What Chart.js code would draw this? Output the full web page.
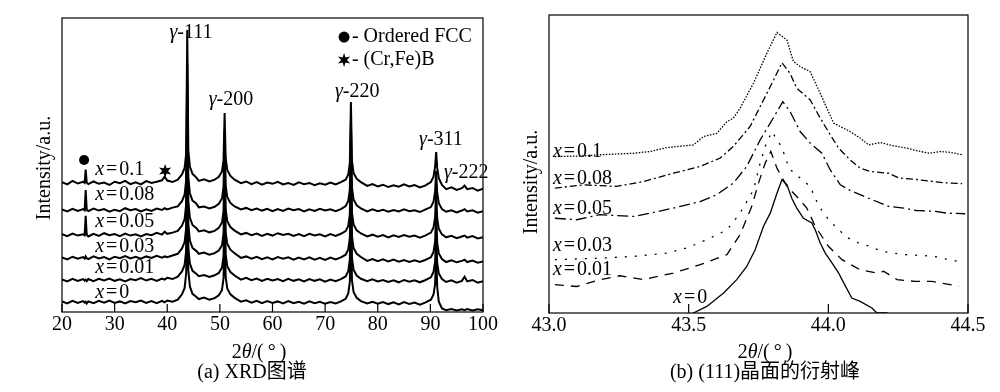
<!DOCTYPE html>
<html>
<head>
<meta charset="utf-8">
<script src="https://cdn.jsdelivr.net/npm/chart.js@4.4.1/dist/chart.umd.min.js"></script>
<style>
  html, body { margin: 0; padding: 0; background: #fff; }
  #wrap { position: relative; width: 1000px; height: 392px; }
  canvas { position: absolute; top: 0; }
</style>
</head>
<body>
<div id="wrap">
  <canvas id="xrd-chart" width="500" height="392" style="left:0"></canvas>
  <canvas id="peak-chart" width="500" height="392" style="left:500px"></canvas>
</div>
<script>
// ---- (a) XRD patterns: shared 2theta grid, one intensity list per composition ----
const xrdAngles = [
  20, 21, 22, 23, 24,
  24.3, 24.5, 24.7,
  25, 26, 27, 28, 29, 30, 31, 32, 33, 34, 35, 36, 37, 38, 39,
  39.5, 40, 41, 42,
  42.8, 43.3, 43.6, 43.8, 44.0, 44.3, 44.8, 45.5,
  46, 47, 48, 49,
  49.8, 50.4, 50.7, 50.9, 51.1, 51.4, 52, 52.8,
  54, 55, 56, 57, 58, 59, 60, 61, 62, 63, 64, 65, 66, 67, 68, 69, 70, 71, 72, 73,
  73.9, 74.4, 74.7, 74.9, 75.1, 75.4, 76, 76.8,
  78, 79, 80, 81, 82, 83, 84, 85, 86, 87, 88, 89,
  90.1, 90.6, 90.9, 91.1, 91.3, 91.6, 92.2,
  93, 94, 95, 96, 96.5, 97, 98, 99, 100
];
const xrdX010 = [
  44.2, 43.4, 44.6, 43.7, 44.3,
  43.9, 48.4, 44.0,
  43.5, 44.4, 43.6, 44.0, 43.2, 44.3, 43.8, 44.6, 43.5, 44.1, 43.4, 44.5, 43.9, 44.3, 44.8,
  46.0, 44.7, 44.2, 45.0,
  46.8, 49.0, 54.0, 95.9, 55.0, 49.5, 47.0, 45.8,
  44.6, 45.1, 44.4, 45.0,
  46.0, 47.8, 51.8, 67.7, 52.3, 48.3, 46.3, 45.0,
  43.8, 44.4, 43.5, 44.2, 43.3, 44.0, 43.6, 44.3, 43.4, 43.9, 43.2, 44.1, 43.5, 43.9, 43.1, 43.8, 43.3, 44.0, 43.4, 44.2,
  45.0, 46.8, 50.8, 71.4, 51.3, 47.3, 45.3, 44.2,
  42.9, 43.5, 42.7, 43.3, 42.5, 43.1, 42.6, 43.4, 42.7, 43.2, 42.4, 43.0,
  44.2, 46.0, 49.5, 54.4, 49.0, 45.5, 43.2,
  41.8, 42.4, 41.5, 42.1, 43.0, 41.8, 42.2, 41.3, 41.9
];
const xrdX008 = [
  34.9, 34.2, 35.1, 34.4, 35.0,
  34.6, 41.5, 34.8,
  34.3, 35.2, 34.5, 35.0, 34.1, 34.8, 34.3, 35.3, 34.6, 35.0, 34.2, 34.9, 34.4, 35.2, 34.7,
  35.3, 34.9, 35.5, 35.9,
  37.7, 39.9, 44.9, 85.0, 45.9, 40.4, 37.9, 36.9,
  35.6, 35.9, 35.2, 35.8,
  36.8, 38.6, 42.6, 62.0, 43.1, 39.1, 37.1, 35.9,
  34.9, 35.4, 34.6, 35.2, 34.5, 35.1, 34.3, 35.0, 34.4, 35.2, 34.6, 35.0, 34.2, 34.9, 34.4, 35.1, 34.5, 34.9, 34.3, 35.0,
  36.0, 37.8, 41.8, 65.0, 42.3, 38.3, 36.3, 35.2,
  34.2, 34.9, 34.3, 34.8, 34.1, 34.7, 34.2, 34.9, 34.3, 34.6, 34.0, 34.8,
  35.7, 37.5, 41.0, 48.0, 40.5, 37.0, 35.0,
  34.1, 34.6, 33.9, 34.5, 35.0, 34.2, 34.6, 33.8, 34.3
];
const xrdX005 = [
  26.5, 25.8, 26.7, 26.0, 26.4,
  26.1, 32.7, 26.3,
  25.7, 26.6, 25.9, 26.8, 26.1, 26.5, 25.8, 26.7, 26.0, 26.4, 25.7, 26.5, 26.1, 26.9, 26.3,
  27.3, 26.6, 27.0, 27.6,
  29.4, 31.6, 36.6, 78.0, 37.6, 32.1, 29.6, 28.6,
  27.4, 27.8, 27.1, 27.6,
  28.6, 30.4, 34.4, 55.0, 34.9, 30.9, 28.9, 27.7,
  26.4, 26.9, 26.1, 26.7, 25.9, 26.6, 26.0, 26.8, 26.2, 26.6, 25.9, 26.5, 25.8, 26.6, 26.0, 26.4, 25.7, 26.5, 25.9, 26.6,
  27.5, 29.3, 33.3, 58.0, 33.8, 29.8, 27.8, 26.7,
  25.7, 26.3, 25.6, 26.2, 25.4, 26.1, 25.5, 26.2, 25.6, 26.0, 25.3, 26.0,
  27.0, 28.8, 32.3, 41.0, 31.8, 28.3, 26.4,
  25.4, 25.9, 25.1, 25.7, 26.0, 25.3, 25.8, 25.0, 25.4
];
const xrdX003 = [
  18.6, 17.9, 18.8, 18.1, 18.7,
  18.2, 18.9, 18.3,
  18.0, 18.9, 18.2, 18.7, 17.9, 18.8, 18.3, 19.0, 18.2, 18.8, 18.1, 18.9, 18.4, 19.1, 18.5,
  18.9, 18.6, 19.2, 19.8,
  21.6, 23.8, 28.8, 70.0, 29.8, 24.3, 21.8, 20.8,
  19.8, 20.2, 19.5, 20.0,
  20.9, 22.7, 26.7, 47.0, 27.2, 23.2, 21.2, 20.0,
  18.4, 18.9, 18.1, 18.8, 18.0, 18.6, 17.9, 18.7, 18.1, 18.6, 17.8, 18.5, 17.9, 18.6, 17.8, 18.4, 17.7, 18.5, 17.9, 18.6,
  19.5, 21.3, 25.3, 50.0, 25.8, 21.8, 19.8, 18.7,
  17.4, 18.0, 17.3, 17.9, 17.2, 17.8, 17.1, 17.7, 17.0, 17.6, 17.0, 17.7,
  18.6, 20.4, 23.9, 34.0, 23.4, 19.9, 18.0,
  17.0, 17.6, 16.9, 17.4, 17.8, 17.0, 17.5, 16.8, 17.2
];
const xrdX001 = [
  11.1, 10.4, 11.3, 10.6, 11.2,
  10.7, 11.0, 10.5,
  11.2, 10.5, 11.3, 10.7, 11.4, 10.6, 11.1, 10.4, 11.2, 10.8, 11.5, 10.7, 11.3, 10.6, 11.4,
  11.0, 11.6, 11.2, 12.0,
  13.8, 16.0, 21.0, 64.0, 22.0, 16.5, 14.0, 13.0,
  12.2, 12.6, 11.9, 12.5,
  13.3, 15.1, 19.1, 40.0, 19.6, 15.6, 13.6, 12.4,
  11.0, 11.6, 10.8, 11.4, 10.6, 11.3, 10.7, 11.2, 10.5, 11.3, 10.6, 11.1, 10.4, 11.2, 10.6, 11.1, 10.3, 11.0, 10.5, 11.2,
  12.1, 13.9, 17.9, 42.0, 18.4, 14.4, 12.4, 11.3,
  10.5, 11.1, 10.4, 10.9, 10.2, 10.8, 10.1, 10.9, 10.3, 10.8, 10.1, 10.8,
  11.8, 13.6, 17.1, 27.0, 16.6, 13.1, 11.2,
  10.2, 10.8, 10.0, 10.6, 12.0, 10.4, 10.9, 10.0, 10.5
];
const xrdX000 = [
  3.6, 2.9, 3.8, 3.1, 3.7,
  3.2, 3.5, 2.9,
  3.6, 3.0, 3.8, 3.2, 3.9, 3.1, 3.6, 2.9, 3.7, 3.3, 3.9, 3.1, 3.7, 3.0, 3.8,
  3.3, 3.9, 3.5, 4.2,
  6.0, 8.2, 13.2, 55.0, 14.2, 8.7, 6.2, 5.2,
  4.4, 4.9, 4.2, 4.7,
  5.7, 7.5, 11.5, 33.0, 12.0, 8.0, 6.0, 4.8,
  3.5, 4.0, 3.2, 3.8, 3.0, 3.7, 3.1, 3.6, 2.9, 3.7, 3.0, 3.5, 2.8, 3.6, 3.0, 3.5, 2.8, 3.4, 2.9, 3.6,
  4.5, 6.3, 10.3, 35.0, 10.8, 6.8, 4.8, 3.7,
  2.9, 3.5, 2.8, 3.4, 2.7, 3.3, 2.6, 3.4, 2.7, 3.2, 2.5, 3.2,
  4.2, 6.0, 9.5, 20.0, 8.5, 3.5, 1.2,
  0.6, 1.0, 0.5, 0.9, 0.6, 1.0, 0.5, 0.9, 0.6
];
const xrdSeries = [xrdX010, xrdX008, xrdX005, xrdX003, xrdX001, xrdX000];
const compositions = ["0.1", "0.08", "0.05", "0.03", "0.01", "0"];
const peakNames = ["111", "200", "220", "311", "222"];
const phaseNames = ["- Ordered FCC", "- (Cr,Fe)B"];

// ---- (b) (111) peak close-up: each curve has its own sampled angles ----
const p111Angle010 = [43.021, 43.123, 43.183, 43.302, 43.362, 43.422, 43.517, 43.553, 43.601, 43.637, 43.660, 43.684, 43.732, 43.780, 43.816, 43.852, 43.875, 43.899, 43.935, 43.971, 44.019, 44.078, 44.114, 44.144, 44.186, 44.234, 44.282, 44.329, 44.365, 44.401, 44.437, 44.479];
const p111Int010 = [52.5, 52.7, 53.1, 53.6, 54.2, 55.5, 56.4, 59.2, 60.3, 64.2, 65.4, 68.7, 77.1, 87.2, 94.1, 91.6, 84.4, 82.7, 81.0, 73.7, 63.7, 60.9, 58.7, 56.4, 57.2, 56.1, 55.3, 54.2, 53.6, 54.2, 53.9, 53.1];
const p111Angle008 = [43.021, 43.123, 43.242, 43.338, 43.445, 43.541, 43.613, 43.660, 43.720, 43.768, 43.804, 43.834, 43.863, 43.887, 43.935, 43.971, 44.007, 44.037, 44.078, 44.114, 44.150, 44.216, 44.252, 44.315, 44.377, 44.413, 44.479];
const p111Int008 = [41.9, 43.0, 42.5, 44.1, 46.9, 49.2, 52.0, 55.9, 62.6, 71.5, 78.2, 84.0, 80.4, 75.4, 71.5, 65.4, 59.8, 55.3, 51.4, 48.6, 47.5, 46.9, 45.3, 44.8, 44.1, 43.7, 43.4];
const p111Angle005 = [43.021, 43.099, 43.183, 43.302, 43.362, 43.445, 43.541, 43.601, 43.660, 43.708, 43.756, 43.792, 43.837, 43.863, 43.899, 43.935, 43.977, 44.007, 44.043, 44.078, 44.144, 44.216, 44.270, 44.315, 44.383, 44.425, 44.490];
const p111Int005 = [31.8, 31.3, 33.0, 32.4, 33.5, 35.2, 37.4, 39.7, 43.6, 49.2, 58.1, 63.7, 70.9, 67.6, 60.9, 57.0, 53.6, 48.0, 43.0, 41.1, 38.5, 35.8, 35.2, 34.4, 34.1, 33.5, 33.3];
const p111Angle003 = [43.021, 43.183, 43.302, 43.422, 43.493, 43.565, 43.637, 43.684, 43.732, 43.756, 43.774, 43.798, 43.828, 43.846, 43.858, 43.899, 43.935, 43.953, 43.971, 44.001, 44.037, 44.072, 44.108, 44.150, 44.192, 44.270, 44.353, 44.389, 44.431, 44.467];
const p111Int003 = [17.9, 18.4, 19.0, 20.1, 21.8, 24.6, 27.9, 33.5, 41.3, 50.3, 55.9, 60.9, 56.4, 52.5, 48.6, 45.3, 42.5, 38.5, 35.2, 31.3, 27.9, 25.1, 23.5, 22.3, 20.7, 19.6, 19.2, 18.8, 17.9, 17.3];
const p111Angle001 = [43.021, 43.099, 43.183, 43.254, 43.338, 43.445, 43.541, 43.637, 43.684, 43.726, 43.750, 43.774, 43.794, 43.816, 43.852, 43.893, 43.923, 43.953, 44.001, 44.049, 44.114, 44.174, 44.198, 44.246, 44.311, 44.371, 44.437, 44.467];
const p111Int001 = [9.5, 8.9, 11.2, 12.5, 11.2, 13.4, 16.2, 19.6, 26.3, 35.8, 43.6, 50.3, 54.2, 48.6, 42.5, 38.5, 35.2, 29.1, 22.3, 17.9, 14.5, 13.4, 14.0, 11.2, 10.6, 10.6, 9.5, 8.9];
const p111Angle000 = [43.0, 43.49, 43.517, 43.565, 43.625, 43.672, 43.708, 43.738, 43.768, 43.792, 43.816, 43.834, 43.852, 43.869, 43.887, 43.911, 43.941, 43.953, 43.971, 43.989, 44.013, 44.037, 44.049, 44.084, 44.114, 44.156, 44.174, 44.21, 44.23, 44.5];
const p111Int000 = [-8, -2.2, 0, 2.2, 6.7, 11.2, 15.6, 21.2, 29.1, 33.5, 40.2, 44.7, 43.0, 38.5, 35.2, 31.8, 30.2, 27.9, 23.5, 20.1, 16.8, 13.4, 11.2, 5.0, 3.9, 1.7, 0, 0, -2.2, -8];
const p111Angles = [p111Angle010, p111Angle008, p111Angle005, p111Angle003, p111Angle001, p111Angle000];
const p111Ints = [p111Int010, p111Int008, p111Int005, p111Int003, p111Int001, p111Int000];

const SERIF = "'Liberation Serif', 'Times New Roman', serif";
const CAPTION_FONT = "'Liberation Serif', 'Noto Sans CJK SC', serif";
const FONT_SIZE = 20;

// Draw "x = value" with an italic x
function drawCompLabel(ctx, left, cy, value) {
  ctx.textAlign = "left";
  ctx.textBaseline = "middle";
  ctx.font = `italic ${FONT_SIZE}px ${SERIF}`;
  ctx.fillText("x", left, cy);
  let cur = left + ctx.measureText("x").width + 2;
  ctx.font = `${FONT_SIZE}px ${SERIF}`;
  ctx.fillText("=", cur, cy);
  cur += ctx.measureText("=").width + 2;
  ctx.fillText(value, cur, cy);
}

// Draw text made of upright / italic pieces, centred on cx
function drawMixed(ctx, parts, cx, cy) {
  ctx.textBaseline = "middle";
  ctx.textAlign = "left";
  let total = 0;
  parts.forEach(([t, it]) => {
    ctx.font = `${it ? "italic " : ""}${FONT_SIZE}px ${SERIF}`;
    total += ctx.measureText(t).width;
  });
  let cur = cx - total / 2;
  parts.forEach(([t, it]) => {
    ctx.font = `${it ? "italic " : ""}${FONT_SIZE}px ${SERIF}`;
    ctx.fillText(t, cur, cy);
    cur += ctx.measureText(t).width;
  });
}

function drawStar(ctx, cx, cy, r) {
  ctx.beginPath();
  for (let i = 0; i < 12; i++) {
    const rad = i % 2 === 0 ? r : r * 0.42;
    const a = -Math.PI / 2 + (i * Math.PI) / 6;
    const px = cx + rad * Math.cos(a);
    const py = cy + rad * Math.sin(a);
    if (i === 0) ctx.moveTo(px, py); else ctx.lineTo(px, py);
  }
  ctx.closePath();
  ctx.fill();
}

// Frame, inside ticks, tick labels, titles and annotations
const panelText = {
  id: "panelText",
  afterDraw(chart, args, opts) {
    const { ctx, chartArea: area, scales: { x, y } } = chart;
    ctx.save();
    ctx.strokeStyle = "#000";
    ctx.fillStyle = "#000";
    ctx.lineWidth = 1.2;
    ctx.strokeRect(area.left, area.top, area.right - area.left, area.bottom - area.top);

    ctx.font = `${FONT_SIZE}px ${SERIF}`;
    ctx.textAlign = "center";
    ctx.textBaseline = "middle";
    x.ticks.forEach((t) => {
      const px = x.getPixelForValue(t.value);
      ctx.beginPath();
      ctx.moveTo(px, area.bottom);
      ctx.lineTo(px, area.bottom - opts.tickLen);
      ctx.stroke();
      ctx.fillText(t.label, px, area.bottom + 13);
    });

    // annotations in data coordinates
    (opts.peakLabels || []).forEach((d) => {
      drawMixed(ctx, [["γ", true], ["-" + d.text, false]], x.getPixelForValue(d.x), y.getPixelForValue(d.y));
    });
    (opts.texts || []).forEach((d) => {
      ctx.font = `${FONT_SIZE}px ${SERIF}`;
      ctx.textAlign = d.align || "center";
      ctx.textBaseline = "middle";
      ctx.fillText(d.text, x.getPixelForValue(d.x), y.getPixelForValue(d.y));
    });
    (opts.compLabels || []).forEach((d) => {
      drawCompLabel(ctx, x.getPixelForValue(d.x), y.getPixelForValue(d.y), d.value);
    });
    (opts.circles || []).forEach((d) => {
      ctx.beginPath();
      ctx.arc(x.getPixelForValue(d.x), y.getPixelForValue(d.y), d.r, 0, Math.PI * 2);
      ctx.fill();
    });
    (opts.stars || []).forEach((d) => {
      drawStar(ctx, x.getPixelForValue(d.x), y.getPixelForValue(d.y), d.r);
    });

    // axis titles and caption
    ctx.save();
    ctx.translate(opts.yTitle.px, opts.yTitle.py);
    ctx.rotate(-Math.PI / 2);
    ctx.font = `${FONT_SIZE}px ${SERIF}`;
    ctx.textAlign = "center";
    ctx.textBaseline = "middle";
    ctx.fillText("Intensity/a.u.", 0, 0);
    ctx.restore();

    drawMixed(ctx, [["2", false], ["θ", true], ["/(\u2009°\u2009)", false]], opts.xTitle.px, opts.xTitle.py);

    ctx.font = `${FONT_SIZE}px ${CAPTION_FONT}`;
    ctx.textAlign = "center";
    ctx.textBaseline = "middle";
    ctx.fillText(opts.caption.text, opts.caption.px, opts.caption.py);
    ctx.restore();
  }
};

// ---- (a) chart ----
const xrdDatasets = xrdSeries.map((vals, i) => ({
  label: "x=" + compositions[i],
  data: xrdAngles.map((a, k) => ({ x: a, y: vals[k] })),
  borderColor: "#000",
  borderWidth: 2,
  pointRadius: 0,
  tension: 0,
  fill: false
}));

const xrdLabelY = [48.3, 39.8, 30.6, 22.1, 15.0, 6.5];
const peakLabelPos = [[44.5, 94.9], [52.1, 72.1], [76.1, 74.8], [92.0, 58.5], [96.8, 47.3]];

new Chart(document.getElementById("xrd-chart"), {
  type: "line",
  data: { datasets: xrdDatasets },
  plugins: [panelText],
  options: {
    responsive: false,
    animation: false,
    events: [],
    layout: { padding: { left: 62, right: 17, top: 18, bottom: 0 } },
    scales: {
      x: {
        type: "linear", min: 20, max: 100,
        ticks: { stepSize: 10, display: false },
        grid: { display: false, drawTicks: false },
        border: { display: false },
        afterFit: (s) => { s.height = 80; }
      },
      y: { display: false, min: 0, max: 100 }
    },
    plugins: {
      legend: { display: false },
      tooltip: { enabled: false },
      panelText: {
        tickLen: 8,
        peakLabels: peakNames.map((n, i) => ({ text: n, x: peakLabelPos[i][0], y: peakLabelPos[i][1] })),
        texts: [
          { text: phaseNames[0], x: 75.1, y: 93.5, align: "left" },
          { text: phaseNames[1], x: 75.1, y: 85.7, align: "left" }
        ],
        compLabels: compositions.map((c, i) => ({ value: c, x: 26.3, y: xrdLabelY[i] })),
        circles: [{ x: 73.6, y: 93.5, r: 5.5 }, { x: 24.2, y: 51.7, r: 5 }],
        stars: [{ x: 73.6, y: 85.7, r: 7 }, { x: 39.6, y: 48.0, r: 7 }],
        yTitle: { px: 45, py: 168 },
        xTitle: { px: 259, py: 353 },
        caption: { text: "(a) XRD图谱", px: 252, py: 373 }
      }
    }
  }
});

// ---- (b) chart ----
const peakDashes = [[1.5, 1.5], [7, 3, 2, 3], [11, 4, 2, 4], [2, 8], [9, 7], []];
const peakDatasets = p111Ints.map((vals, i) => ({
  label: "x=" + compositions[i],
  data: p111Angles[i].map((a, k) => ({ x: a, y: vals[k] })),
  borderColor: "#000",
  borderWidth: 1.3,
  borderDash: peakDashes[i],
  pointRadius: 0,
  tension: 0,
  fill: false
}));

const peakLabelPosB = [[43.014, 54.0], [43.014, 45.0], [43.014, 34.9], [43.014, 22.5], [43.014, 14.4], [43.444, 5.0]];

new Chart(document.getElementById("peak-chart"), {
  type: "line",
  data: { datasets: peakDatasets },
  plugins: [panelText],
  options: {
    responsive: false,
    animation: false,
    events: [],
    layout: { padding: { left: 49, right: 32, top: 15, bottom: 0 } },
    scales: {
      x: {
        type: "linear", min: 43, max: 44.5,
        ticks: { stepSize: 0.5, display: false, callback: (v) => Number(v).toFixed(1) },
        grid: { display: false, drawTicks: false },
        border: { display: false },
        afterFit: (s) => { s.height = 79; }
      },
      y: { display: false, min: 0, max: 100 }
    },
    plugins: {
      legend: { display: false },
      tooltip: { enabled: false },
      panelText: {
        tickLen: 9,
        compLabels: compositions.map((c, i) => ({ value: c, x: peakLabelPosB[i][0], y: peakLabelPosB[i][1] })),
        yTitle: { px: 32, py: 182 },
        xTitle: { px: 265, py: 353 },
        caption: { text: "(b) (111)晶面的衍射峰", px: 265, py: 373 }
      }
    }
  }
});
</script>
</body>
</html>
